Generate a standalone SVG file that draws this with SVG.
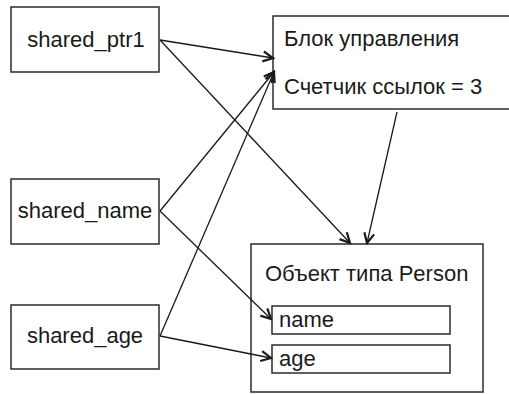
<svg xmlns="http://www.w3.org/2000/svg" width="509" height="394" viewBox="0 0 509 394">
  <style>
    .box { fill: #ffffff; stroke: #2b2b2b; stroke-width: 1.5; }
    .lbl { font-family: "Liberation Sans", Arial, sans-serif; font-size: 22px; fill: #1a1a1a; }
    .mid { text-anchor: middle; }
    .edge { fill: none; stroke: #1a1a1a; stroke-width: 1.3; marker-end: url(#arrow); }
  </style>
  <defs>
    <marker id="arrow" viewBox="-12 -7 14 14" refX="0" refY="0" markerWidth="14" markerHeight="14" markerUnits="userSpaceOnUse" orient="auto">
      <path d="M-10,-5 L0,0 L-10,5" fill="none" stroke="#1a1a1a" stroke-width="2.2" stroke-linejoin="miter"/>
    </marker>
  </defs>
  <rect width="509" height="394" fill="#ffffff"/>

  <g id="shared_ptr1">
    <rect class="box" x="11" y="7" width="148" height="65"/>
    <text class="lbl mid" x="86" y="47">shared_ptr1</text>
  </g>

  <g id="shared_name">
    <rect class="box" x="11" y="179" width="148" height="65"/>
    <text class="lbl mid" x="85" y="218">shared_name</text>
  </g>

  <g id="shared_age">
    <rect class="box" x="11" y="305" width="148" height="64"/>
    <text class="lbl mid" x="85" y="343">shared_age</text>
  </g>

  <g id="control_block">
    <rect class="box" x="273" y="16" width="240" height="93"/>
    <text class="lbl" x="284" y="46">Блок управления</text>
    <text class="lbl" x="284" y="94">Счетчик ссылок = 3</text>
  </g>

  <g id="person">
    <rect class="box" x="251" y="244" width="232" height="148"/>
    <text class="lbl" x="265" y="281">Объект типа Person</text>
    <g id="field_name">
      <rect class="box" x="272" y="306" width="178" height="28"/>
      <text class="lbl" x="279" y="327">name</text>
    </g>
    <g id="field_age">
      <rect class="box" x="272" y="345" width="178" height="28"/>
      <text class="lbl" x="279" y="366">age</text>
    </g>
  </g>

  <g id="connectors">
    <line class="edge" x1="160" y1="40" x2="273" y2="58"/>
    <line class="edge" x1="160" y1="40" x2="350" y2="243"/>
    <line class="edge" x1="160" y1="211" x2="274" y2="72"/>
    <line class="edge" x1="160" y1="336" x2="274" y2="72"/>
    <line class="edge" x1="397" y1="112" x2="367" y2="243"/>
    <line class="edge" x1="160" y1="211" x2="271" y2="319"/>
    <line class="edge" x1="160" y1="336" x2="271" y2="358"/>
  </g>
</svg>
